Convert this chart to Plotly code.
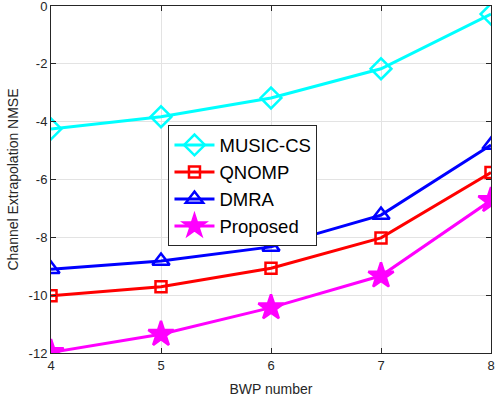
import plotly.graph_objects as go

bwp = [4, 5, 6, 7, 8]
music_cs = [-4.25, -3.83, -3.18, -2.17, -0.28]
qnomp = [-10.02, -9.71, -9.07, -8.02, -5.76]
dmra = [-9.1, -8.82, -8.33, -7.23, -4.81]
proposed = [-11.98, -11.35, -10.43, -9.33, -6.72]

series = [
    ("MUSIC-CS", music_cs, "#00ffff", "diamond-open", 16),
    ("QNOMP", qnomp, "#ff0000", "square-open", 11),
    ("DMRA", dmra, "#0000ff", "triangle-up-open", 15),
    ("Proposed", proposed, "#ff00ff", "star", 19),
]

fig = go.Figure()
for name, vals, color, sym, size in series:
    fig.add_trace(go.Scatter(
        x=bwp, y=vals, name=name, mode="lines+markers",
        line=dict(color=color, width=3),
        marker=dict(symbol=sym, size=size, color=color,
                    line=dict(color=color, width=2.5)),
    ))

axis_common = dict(
    showline=True, linecolor="#262626", linewidth=1, mirror="ticks",
    ticks="inside", ticklen=5, tickcolor="#262626",
    showgrid=True, gridcolor="#e3e3e3", gridwidth=1,
    zeroline=False, ticklabeloverflow="allow", automargin=False,
    tickfont=dict(family="Liberation Sans, Arial", size=13, color="#262626"),
)

fig.update_xaxes(range=[4, 8], tickvals=[4, 5, 6, 7, 8],
                 title=dict(text="BWP number", standoff=12,
                            font=dict(family="Liberation Sans, Arial", size=14, color="#262626")),
                 **axis_common)
fig.update_yaxes(range=[-12, 0], tickvals=[-12, -10, -8, -6, -4, -2, 0],
                 ticktext=["-12", "-10", "-8", "-6", "-4", "-2", "0"],
                 title=dict(text="Channel Extrapolation NMSE", standoff=6,
                            font=dict(family="Liberation Sans, Arial", size=14, color="#262626")),
                 **axis_common)

fig.update_layout(
    width=498, height=403,
    margin=dict(l=51, r=7, t=6, b=50),
    plot_bgcolor="white", paper_bgcolor="white",
    legend=dict(x=0.267, y=0.656, xanchor="left", yanchor="top",
                bgcolor="white", bordercolor="#262626", borderwidth=1,
                font=dict(family="Liberation Sans, Arial", size=18.5, color="black"),
                itemwidth=40, tracegroupgap=0),
    showlegend=True,
)

fig.write_html("out.html")
